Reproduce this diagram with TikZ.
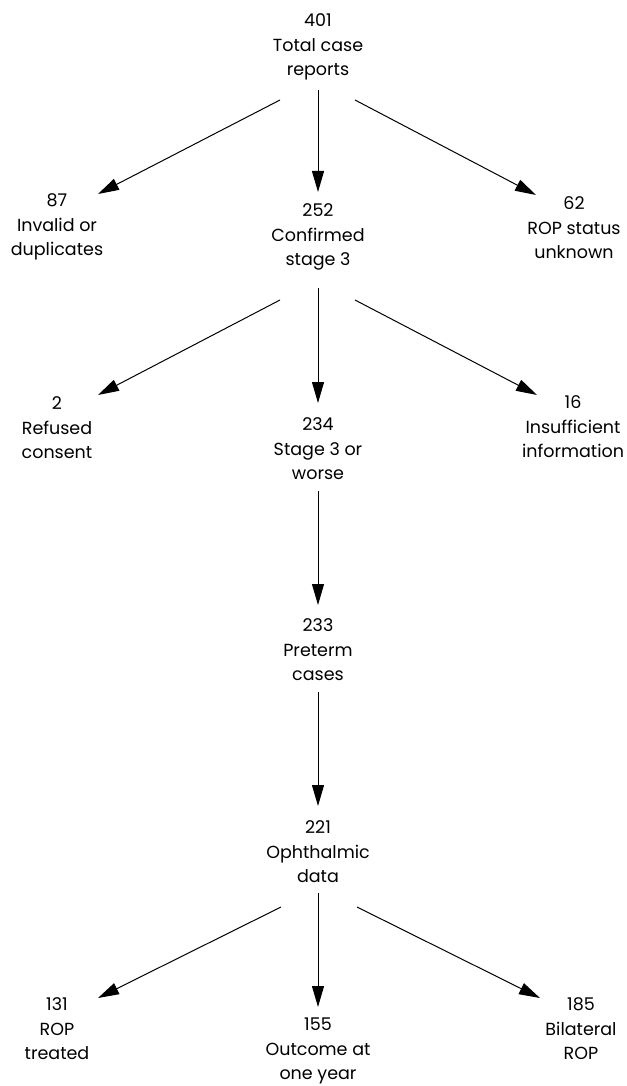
\documentclass[tikz,border=0pt]{standalone}
\usepackage{fontspec}
\setmainfont{Poppins}
\usetikzlibrary{arrows.meta}
\begin{document}
\begin{tikzpicture}[x=1pt,y=-1pt,
  lbl/.style={align=center, inner sep=0pt, font=\fontsize{17.5}{24.5}\selectfont},
  arr/.style={line width=1pt, -{Triangle[length=21pt,width=12pt]}}]
\useasboundingbox (0,0) rectangle (626,1086);
% nodes
\node[lbl] (total) at (318,47) {401\\Total case\\reports};
\node[lbl] (invalid) at (57,227) {87\\Invalid or\\duplicates};
\node[lbl] (confirmed) at (318,237) {252\\Confirmed\\stage 3};
\node[lbl] (unknown) at (574,228) {62\\ROP status\\unknown};
\node[lbl] (refused) at (57,428) {2\\Refused\\consent};
\node[lbl] (stage) at (318,449) {234\\Stage 3 or\\worse};
\node[lbl] (insuff) at (573,427) {16\\Insufficient\\information};
\node[lbl] (preterm) at (318,650) {233\\Preterm\\cases};
\node[lbl] (ophth) at (318,852) {221\\Ophthalmic\\data};
\node[lbl] (treated) at (57,1029) {131\\ROP\\treated};
\node[lbl] (outcome) at (318,1051) {155\\Outcome at\\one year};
\node[lbl] (bilat) at (581,1029) {185\\Bilateral\\ROP};
% connectors
\draw[arr] ([shift={(-38,53)}]total.center) -- ([shift={(41,-33)}]invalid.center);
\draw[arr] ([shift={(0,43)}]total.center) -- ([shift={(0,-45)}]confirmed.center);
\draw[arr] ([shift={(37,53)}]total.center) -- ([shift={(-38,-33)}]unknown.center);
\draw[arr] ([shift={(-38,63)}]confirmed.center) -- ([shift={(41,-33)}]refused.center);
\draw[arr] ([shift={(0,51)}]confirmed.center) -- ([shift={(0,-46)}]stage.center);
\draw[arr] ([shift={(37,63)}]confirmed.center) -- ([shift={(-36,-32)}]insuff.center);
\draw[arr] ([shift={(0,42)}]stage.center) -- ([shift={(0,-45)}]preterm.center);
\draw[arr] ([shift={(0,42)}]preterm.center) -- ([shift={(0,-46)}]ophth.center);
\draw[arr] ([shift={(-37,55)}]ophth.center) -- ([shift={(41,-31)}]treated.center);
\draw[arr] ([shift={(0,41)}]ophth.center) -- ([shift={(0,-44)}]outcome.center);
\draw[arr] ([shift={(39,55)}]ophth.center) -- ([shift={(-41,-31)}]bilat.center);
\end{tikzpicture}
\end{document}
